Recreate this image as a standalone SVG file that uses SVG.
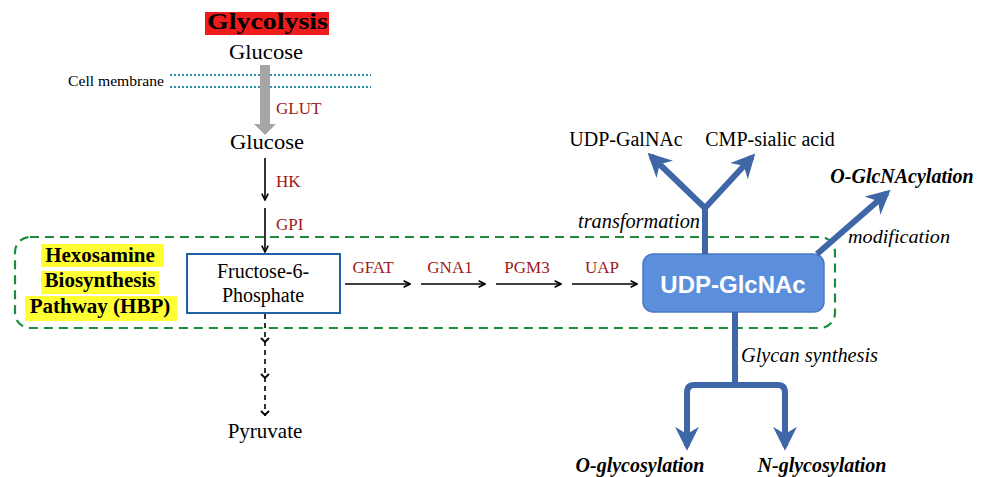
<svg xmlns="http://www.w3.org/2000/svg" width="984" height="477" viewBox="0 0 984 477">
<style>
.t{font-family:"Liberation Serif","Times New Roman",serif;fill:#000}
.r{font-family:"Liberation Serif","Times New Roman",serif;fill:#a01820;font-size:17px}
.it{font-style:italic}
.b{font-weight:bold}
.ar{stroke:#000;stroke-width:1.6;fill:none}
.blue{stroke:#3f67a8;stroke-width:6;fill:none}
</style>
<defs>
<marker id="ah" viewBox="0 0 10 10" refX="9" refY="5" markerWidth="8" markerHeight="8" markerUnits="userSpaceOnUse" orient="auto"><path d="M1,1 L9,5 L1,9" fill="none" stroke="#000" stroke-width="2"/></marker>
<marker id="bh" viewBox="0 0 10 10" refX="8" refY="5" markerWidth="4" markerHeight="4" orient="auto"><path d="M0,0 L10,5 L0,10 L3,5 Z" fill="#3f67a8"/></marker>
</defs>
<rect width="984" height="477" fill="#fff"/>

<g id="glycolysis">
<rect x="205" y="12" width="124" height="23" fill="#ee1c1c"/>
<text class="t b" x="207" y="29" font-size="24" textLength="121" lengthAdjust="spacingAndGlyphs">Glycolysis</text>
</g>
<g id="glucose1"><text class="t" x="229" y="59" font-size="21" textLength="74" lengthAdjust="spacingAndGlyphs">Glucose</text></g>
<g id="membrane">
<text class="t" x="68" y="86" font-size="14.5" textLength="96" lengthAdjust="spacingAndGlyphs">Cell membrane</text>
<line x1="170" y1="75" x2="371" y2="75" stroke="#2a8fb0" stroke-width="2" stroke-dasharray="2 2"/>
<line x1="170" y1="87" x2="371" y2="87" stroke="#2a8fb0" stroke-width="2" stroke-dasharray="2 2"/>
</g>
<g id="glucose2"><text class="t" x="230" y="149" font-size="21" textLength="74" lengthAdjust="spacingAndGlyphs">Glucose</text></g>
<g id="f6p">
<rect x="187" y="254" width="153" height="59" fill="#fff" stroke="#1f5fa8" stroke-width="2"/>
<text class="t" x="263" y="278" font-size="20" text-anchor="middle">Fructose-6-</text>
<text class="t" x="263" y="302" font-size="20" text-anchor="middle">Phosphate</text>
</g>
<g id="pyruvate"><text class="t" x="265" y="438" font-size="21" text-anchor="middle">Pyruvate</text></g>

<g id="hbp">
<rect x="15" y="237" width="820" height="91" rx="15" fill="none" stroke="#1a8c3c" stroke-width="2.2" stroke-dasharray="9 6"/>
<rect x="41" y="244" width="123" height="23" fill="#ffff33"/>
<rect x="41" y="271" width="118" height="23" fill="#ffff33"/>
<rect x="25" y="296" width="152" height="25" fill="#ffff33"/>
<text class="t b" x="100" y="262" font-size="21" text-anchor="middle">Hexosamine</text>
<text class="t b" x="100" y="287" font-size="21" text-anchor="middle">Biosynthesis</text>
<text class="t b" x="100" y="313" font-size="21" text-anchor="middle">Pathway (HBP)</text>
</g>

<g id="udpglcnac">
<rect x="643" y="254" width="181" height="58" rx="10" fill="#5b8fdc" stroke="#4a78c0" stroke-width="1.5"/>
<text x="733" y="293" font-family="'Liberation Sans',Arial,sans-serif" font-weight="bold" font-size="24" fill="#fff" text-anchor="middle">UDP-GlcNAc</text>
</g>

<g id="products">
<text class="t" x="626" y="146" font-size="20" text-anchor="middle">UDP-GalNAc</text>
<text class="t" x="770" y="146" font-size="20" text-anchor="middle">CMP-sialic acid</text>
<text class="t b it" x="902" y="183" font-size="20" text-anchor="middle">O-GlcNAcylation</text>
<text class="t b it" x="640" y="472" font-size="20" text-anchor="middle">O-glycosylation</text>
<text class="t b it" x="822" y="472" font-size="20" text-anchor="middle">N-glycosylation</text>
</g>

<g id="connectors">
<path d="M265,65 L265,125" stroke="#a6a6a6" stroke-width="10"/>
<path d="M254,124 L276,124 L265,135 Z" fill="#a6a6a6"/>
<text class="r" x="276" y="114" font-size="19">GLUT</text>
<line class="ar" x1="265" y1="158" x2="265" y2="200" marker-end="url(#ah)"/>
<text class="r" x="276" y="187">HK</text>
<line class="ar" x1="265" y1="208" x2="265" y2="252" marker-end="url(#ah)"/>
<text class="r" x="276" y="230">GPI</text>
<line class="ar" x1="265" y1="314" x2="265" y2="416" stroke-dasharray="5 4"/>
<path d="M261,338 L265,342 L269,338 M261,374 L265,378 L269,374 M261,411 L265,415 L269,411" fill="none" stroke="#000" stroke-width="1.8"/>
<line class="ar" x1="345" y1="284" x2="410" y2="284" marker-end="url(#ah)"/>
<text class="r" x="373" y="273" text-anchor="middle">GFAT</text>
<line class="ar" x1="421" y1="284" x2="485" y2="284" marker-end="url(#ah)"/>
<text class="r" x="450" y="273" text-anchor="middle">GNA1</text>
<line class="ar" x1="496" y1="284" x2="561" y2="284" marker-end="url(#ah)"/>
<text class="r" x="527" y="273" text-anchor="middle">PGM3</text>
<line class="ar" x1="572" y1="284" x2="637" y2="284" marker-end="url(#ah)"/>
<text class="r" x="602" y="273" text-anchor="middle">UAP</text>

<path class="blue" d="M705,254 L705,208 L651,156" marker-end="url(#bh)"/>
<path class="blue" d="M705,208 L752,157" marker-end="url(#bh)"/>
<path class="blue" d="M817,254 L887,193" marker-end="url(#bh)"/>
<text class="t it" x="578" y="228" font-size="20" textLength="122" lengthAdjust="spacingAndGlyphs">transformation</text>
<text class="t it" x="848" y="243" font-size="19.5" textLength="102" lengthAdjust="spacingAndGlyphs">modification</text>

<path class="blue" d="M735,312 L735,385"/>
<path class="blue" d="M735,385 L694,385 Q687,385 687,393 L687,446" marker-end="url(#bh)"/>
<path class="blue" d="M735,385 L778,385 Q785,385 785,393 L785,446" marker-end="url(#bh)"/>
<text class="t it" x="741" y="362" font-size="20" textLength="137" lengthAdjust="spacingAndGlyphs">Glycan synthesis</text>
</g>
</svg>
